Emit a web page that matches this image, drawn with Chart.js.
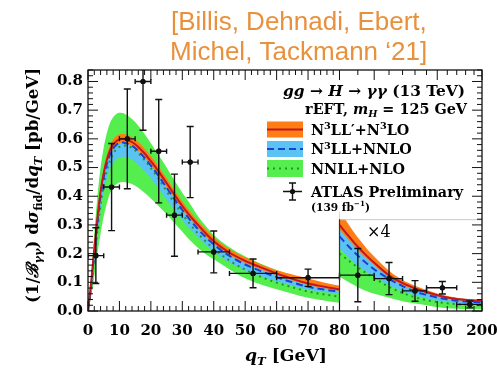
<!DOCTYPE html>
<html><head><meta charset="utf-8">
<script src="https://cdn.jsdelivr.net/npm/chart.js@4.4.0/dist/chart.umd.min.js"></script>
<style>html,body{margin:0;padding:0;background:#fff;}#wrap{width:497px;height:370px;position:relative;}</style>
</head><body><div id="wrap"><canvas id="c" width="497" height="370"></canvas></div>
<script>
// ---------- data ----------
// left panel, q_T 0..80 GeV, pb/GeV
const qLeft = [0,1,2,3,4,5,6,7,8,9,10,11,12,14,16,18,20,22.5,25,27.5,30,32.5,35,37.5,40,45,50,55,60,65,70,75,80];
const redN3LLp   = [0,0.10,0.215,0.325,0.415,0.48,0.527,0.56,0.58,0.592,0.598,0.600,0.598,0.589,0.572,0.549,0.522,0.486,0.446,0.405,0.366,0.331,0.3,0.27,0.243,0.203,0.175,0.152,0.131,0.112,0.096,0.085,0.075];
const orangeHi   = [0,0.11,0.23,0.34,0.432,0.497,0.545,0.578,0.598,0.61,0.616,0.617,0.615,0.606,0.589,0.566,0.539,0.503,0.463,0.421,0.382,0.346,0.314,0.284,0.257,0.216,0.187,0.163,0.142,0.127,0.113,0.099,0.088];
const orangeLo   = [0,0.09,0.2,0.31,0.4,0.465,0.512,0.545,0.566,0.578,0.584,0.586,0.584,0.575,0.558,0.535,0.508,0.472,0.432,0.392,0.354,0.32,0.289,0.26,0.234,0.195,0.167,0.145,0.125,0.106,0.091,0.08,0.07];
const blueN3LL   = [0,0.09,0.2,0.31,0.4,0.465,0.512,0.546,0.566,0.579,0.585,0.587,0.585,0.576,0.558,0.534,0.507,0.47,0.43,0.39,0.352,0.317,0.285,0.257,0.232,0.192,0.162,0.139,0.118,0.1,0.084,0.075,0.067];
const cyanHi     = [0,0.105,0.225,0.335,0.425,0.49,0.538,0.572,0.593,0.606,0.612,0.613,0.611,0.602,0.585,0.562,0.535,0.499,0.459,0.418,0.378,0.342,0.31,0.28,0.253,0.212,0.182,0.158,0.137,0.118,0.102,0.091,0.082];
const cyanLo     = [0,0.07,0.165,0.265,0.35,0.415,0.462,0.496,0.517,0.53,0.536,0.538,0.537,0.528,0.511,0.488,0.462,0.427,0.389,0.352,0.317,0.284,0.255,0.229,0.206,0.169,0.141,0.122,0.104,0.088,0.074,0.066,0.059];
const greenNNLL  = [0,0.08,0.18,0.28,0.37,0.44,0.49,0.525,0.548,0.563,0.572,0.577,0.577,0.568,0.55,0.526,0.498,0.46,0.418,0.377,0.338,0.302,0.27,0.242,0.217,0.176,0.144,0.119,0.099,0.083,0.068,0.058,0.05];
const greenHi    = [0,0.12,0.27,0.4,0.5,0.57,0.62,0.655,0.675,0.687,0.691,0.69,0.685,0.669,0.646,0.617,0.585,0.543,0.5,0.455,0.412,0.373,0.33,0.295,0.265,0.222,0.19,0.165,0.143,0.125,0.11,0.097,0.087];
const greenLo    = [0,0.05,0.12,0.2,0.27,0.33,0.375,0.41,0.43,0.442,0.448,0.45,0.449,0.443,0.43,0.412,0.392,0.365,0.337,0.307,0.276,0.246,0.22,0.198,0.18,0.145,0.114,0.092,0.076,0.06,0.046,0.037,0.029];
// right panel, q_T 80..200 GeV, values as drawn (x4)
const qRight = [80,85,90,95,100,110,120,130,140,150,160,170,180,190,200];
const red4      = [0.30,0.26,0.224,0.194,0.168,0.124,0.097,0.079,0.066,0.055,0.047,0.042,0.039,0.037,0.035];
const orangeHi4 = [0.35,0.3,0.256,0.22,0.19,0.14,0.108,0.088,0.073,0.061,0.052,0.046,0.042,0.04,0.038];
const orangeLo4 = [0.285,0.247,0.213,0.184,0.16,0.117,0.091,0.074,0.062,0.052,0.044,0.039,0.036,0.034,0.032];
const blue4     = [0.26,0.224,0.193,0.167,0.145,0.112,0.087,0.068,0.056,0.047,0.041,0.036,0.033,0.031,0.03];
const cyanHi4   = [0.32,0.276,0.238,0.206,0.179,0.133,0.103,0.084,0.07,0.058,0.05,0.045,0.041,0.038,0.036];
const cyanLo4   = [0.22,0.185,0.158,0.137,0.12,0.09,0.069,0.054,0.044,0.036,0.031,0.027,0.025,0.023,0.022];
const green4    = [0.2,0.175,0.152,0.132,0.115,0.084,0.063,0.048,0.038,0.031,0.027,0.024,0.022,0.021,0.02];
const greenHi4  = [0.34,0.29,0.248,0.213,0.184,0.136,0.105,0.086,0.071,0.059,0.05,0.045,0.041,0.039,0.037];
const greenLo4  = [0.12,0.1,0.083,0.07,0.06,0.046,0.034,0.026,0.02,0.013,0.01,0.008,0.007,0.006,0.006];
// ATLAS Preliminary (139 fb^-1); last five bins shown x4
const atlasQ   = [2.5,7.5,12.5,17.5,22.5,27.5,32.5,40,52.5,70,90,110,130,155,185];
const atlasQlo = [0,5,10,15,20,25,30,35,45,60,80,100,120,140,170];
const atlasQhi = [5,10,15,20,25,30,35,45,60,80,100,120,140,170,200];
const atlasY   = [0.193,0.432,0.6,0.8,0.557,0.334,0.519,0.206,0.131,0.116,0.125,0.113,0.07,0.081,0.023];
const atlasErr = [0.097,0.152,0.174,0.17,0.18,0.143,0.124,0.073,0.05,0.03,0.093,0.056,0.036,0.022,0.012];
// axis ticks
const xTicksLeft = [0,10,20,30,40,50,60,70,80];
const xTicksRight = [100,150,200];
const xMinorRight = [90,110,120,130,140,160,170,180,190];
const yTicks = [0,0.1,0.2,0.3,0.4,0.5,0.6,0.7,0.8];

// ---------- axis transform: linear 0-80, log 80-200 ----------
const SPLIT = 80, KLOG = 49.47, BOX_TOP = 0.32, YMAX = 0.84;
function u(q){ return q <= SPLIT ? q : SPLIT + KLOG*Math.log(q/SPLIT); }
const UMAX = u(200);
function pts(qs, vs){ return qs.map((q,i)=>({x:u(q), y:vs[i]})); }

const C_GREEN='#54ee4e', C_CYAN='#5bc3f3', C_ORANGE='#ff7d14';
const L_RED='#c4161c', L_BLUE='#1b3fd0', L_GREEN='#23962a';

function band(lo, hi, color, ord){
  return [
    {data:lo, borderWidth:0, pointRadius:0, fill:false, order:ord},
    {data:hi, borderWidth:0, pointRadius:0, fill:'-1', backgroundColor:color, order:ord}
  ];
}
function line(d, color, dash, ord){
  return {data:d, borderColor:color, borderWidth:2, borderDash:dash, pointRadius:0, fill:false, order:ord};
}
const datasets = [
  ...band(pts(qLeft,greenLo), pts(qLeft,greenHi), C_GREEN, 30),
  ...band(pts(qLeft,cyanLo), pts(qLeft,cyanHi), C_CYAN, 29),
  ...band(pts(qLeft,orangeLo), pts(qLeft,orangeHi), C_ORANGE, 28),
  line(pts(qLeft,greenNNLL), L_GREEN, [2,4], 22),
  line(pts(qLeft,blueN3LL), L_BLUE, [7,4], 21),
  line(pts(qLeft,redN3LLp), L_RED, [], 20),
  ...band(pts(qRight,greenLo4), pts(qRight,greenHi4), C_GREEN, 30),
  ...band(pts(qRight,cyanLo4), pts(qRight,cyanHi4), C_CYAN, 29),
  ...band(pts(qRight,orangeLo4), pts(qRight,orangeHi4), C_ORANGE, 28),
  line(pts(qRight,green4), L_GREEN, [2,4], 22),
  line(pts(qRight,blue4), L_BLUE, [7,4], 21),
  line(pts(qRight,red4), L_RED, [], 20),
  {type:'scatter', data:pts(atlasQ, atlasY), pointRadius:2.6, pointBackgroundColor:'#111', pointBorderWidth:0, showLine:false, order:1}
];

// ---------- text helpers ----------
const SERIF = '"DejaVu Serif","Liberation Serif",serif';
function fnt(s, size){ return (s.includes('i')?'italic ':'') + (s.includes('b')?'bold ':'') + size.toFixed(2) + 'px ' + SERIF; }
function segSize(g, size){ return (g.sub||g.sup) ? size*0.68 : size; }
function richW(ctx, segs, size){ let w=0; for(const g of segs){ ctx.font=fnt(g.s||'b', segSize(g,size)); w+=ctx.measureText(g.t).width; } return w; }
function fit(ctx, segs, base, target){ return base*target/richW(ctx,segs,base); }
function drawRich(ctx, segs, x, y, size, align){
  const w = richW(ctx, segs, size);
  let cx = align==='right' ? x-w : align==='center' ? x-w/2 : x;
  ctx.textAlign='left'; ctx.textBaseline='alphabetic'; ctx.fillStyle='#000';
  for(const g of segs){
    const sz = segSize(g,size); ctx.font = fnt(g.s||'b', sz);
    const dy = g.sub ? size*0.22 : g.sup ? -size*0.38 : 0;
    ctx.fillText(g.t, cx, y+dy); cx += ctx.measureText(g.t).width;
  }
}

const deco = {
  id:'deco',
  afterDatasetsDraw(chart){
    const {ctx, chartArea:a, scales:{x, y}} = chart;
    const xs = x.getPixelForValue(u(SPLIT));
    const yb = y.getPixelForValue(BOX_TOP);
    ctx.save(); ctx.fillStyle='#fff'; ctx.fillRect(xs+0.5, a.top, a.right-xs, yb-a.top); ctx.restore();
    ctx.save();
    ctx.beginPath(); ctx.rect(a.left, a.top, a.right-a.left, a.bottom-a.top); ctx.clip();
    ctx.strokeStyle='#111'; ctx.lineWidth=1.4;
    for(let i=0;i<atlasQ.length;i++){
      const px=x.getPixelForValue(u(atlasQ[i])), py=y.getPixelForValue(atlasY[i]);
      const x0=x.getPixelForValue(u(atlasQlo[i])), x1=x.getPixelForValue(u(atlasQhi[i]));
      const yT=y.getPixelForValue(atlasY[i]+atlasErr[i]), yB=y.getPixelForValue(Math.max(0,atlasY[i]-atlasErr[i]));
      ctx.beginPath();
      ctx.moveTo(x0,py); ctx.lineTo(x1,py);
      ctx.moveTo(x0,py-2.5); ctx.lineTo(x0,py+2.5);
      ctx.moveTo(x1,py-2.5); ctx.lineTo(x1,py+2.5);
      ctx.moveTo(px,yT); ctx.lineTo(px,yB);
      ctx.moveTo(px-3.5,yT); ctx.lineTo(px+3.5,yT);
      ctx.moveTo(px-3.5,yB); ctx.lineTo(px+3.5,yB);
      ctx.stroke();
      ctx.beginPath(); ctx.fillStyle='#111'; ctx.arc(px,py,2.6,0,Math.PI*2); ctx.fill();
    }
    ctx.restore();
  },
  afterDraw(chart){
    const {ctx, chartArea:a, scales:{x, y}} = chart;
    const X = q => x.getPixelForValue(u(q));
    const Y = v => y.getPixelForValue(v);
    const xs = X(SPLIT), yb = Y(BOX_TOP);
    ctx.save();
    // x4 box
    ctx.strokeStyle='#c8c8c8'; ctx.lineWidth=1;
    ctx.beginPath(); ctx.moveTo(xs, yb+0.5); ctx.lineTo(a.right, yb+0.5); ctx.stroke();
    ctx.strokeStyle='#333'; ctx.lineWidth=1.2;
    ctx.beginPath(); ctx.moveTo(xs, yb); ctx.lineTo(xs, a.bottom); ctx.stroke();
    // frame
    ctx.strokeStyle='#111'; ctx.lineWidth=1.3;
    ctx.strokeRect(a.left, a.top, a.right-a.left, a.bottom-a.top);
    // ticks
    ctx.lineWidth=1;
    ctx.beginPath();
    const xt = (px, len) => { ctx.moveTo(px, a.bottom); ctx.lineTo(px, a.bottom-len); ctx.moveTo(px, a.top); ctx.lineTo(px, a.top+len); };
    for(let q=0; q<=80; q+=2){ xt(X(q), q%10===0 ? 10 : 5); }
    xTicksRight.forEach(q=>xt(X(q),10));
    xMinorRight.forEach(q=>xt(X(q),5));
    for(let k=0; k<=42; k++){
      const v=k*0.02, py=Y(v), len = (k%5===0) ? 10 : 5;
      ctx.moveTo(a.left, py); ctx.lineTo(a.left+len, py);
      ctx.moveTo(a.right, py); ctx.lineTo(a.right-len, py);
    }
    ctx.stroke();
    // tick labels
    ctx.fillStyle='#000'; ctx.font='bold 15px '+SERIF;
    ctx.textAlign='center'; ctx.textBaseline='alphabetic';
    xTicksLeft.concat(xTicksRight).forEach(q=>ctx.fillText(String(q), X(q), 335));
    ctx.textAlign='right'; ctx.textBaseline='middle';
    yTicks.forEach(v=>ctx.fillText(v.toFixed(1), 83, Y(v)));
    // axis titles
    const xt1=[{t:'q',s:'bi'},{t:'T',s:'bi',sub:true},{t:' [GeV]',s:'b'}];
    drawRich(ctx, xt1, 286, 361, fit(ctx,xt1,16,82), 'center');
    const yt1=[{t:'(1/',s:'b'},{t:'ℬ',s:'bi'},{t:'γγ',s:'bi',sub:true},{t:') d',s:'b'},{t:'σ',s:'bi'},{t:'fid',s:'b',sub:true},{t:'/d',s:'b'},{t:'q',s:'bi'},{t:'T',s:'bi',sub:true},{t:' [pb/GeV]',s:'b'}];
    ctx.save(); ctx.translate(38, 185.5); ctx.rotate(-Math.PI/2);
    drawRich(ctx, yt1, 0, 0, fit(ctx,yt1,16,235), 'center'); ctx.restore();
    // legend header
    const h1=[{t:'gg',s:'bi'},{t:' → ',s:'b'},{t:'H',s:'bi'},{t:' → ',s:'b'},{t:'γγ',s:'bi'},{t:' (13 TeV)',s:'b'}];
    drawRich(ctx, h1, 465, 95.5, fit(ctx,h1,14,182), 'right');
    const h2=[{t:'rEFT, ',s:'b'},{t:'m',s:'bi'},{t:'H',s:'bi',sub:true},{t:' = 125 GeV',s:'b'}];
    drawRich(ctx, h2, 467, 114, fit(ctx,h2,13,162), 'right');
    // legend entries
    const swL=267, swR=303;
    const rows=[
      {y0:121.5,y1:137.5,fill:C_ORANGE,lc:L_RED,dash:[],
       segs:[{t:'N'},{t:'3',sup:true},{t:'LL′+N'},{t:'3',sup:true},{t:'LO'}]},
      {y0:141,y1:157,fill:C_CYAN,lc:L_BLUE,dash:[7,4],
       segs:[{t:'N'},{t:'3',sup:true},{t:'LL+NNLO'}]},
      {y0:160,y1:177,fill:C_GREEN,lc:L_GREEN,dash:[2,4],
       segs:[{t:'NNLL+NLO'}]}
    ];
    const atl=[{t:'ATLAS Preliminary'}];
    const ls = fit(ctx, atl, 13, 152);
    rows.forEach(r=>{
      ctx.fillStyle=r.fill; ctx.fillRect(swL, r.y0, swR-swL, r.y1-r.y0);
      ctx.strokeStyle=r.lc; ctx.lineWidth=2; ctx.setLineDash(r.dash);
      const ym=(r.y0+r.y1)/2;
      ctx.beginPath(); ctx.moveTo(swL, ym); ctx.lineTo(swR, ym); ctx.stroke(); ctx.setLineDash([]);
      drawRich(ctx, r.segs, 311, ym+5, ls, 'left');
    });
    // ATLAS marker
    ctx.strokeStyle='#111'; ctx.lineWidth=1.4;
    ctx.beginPath(); ctx.moveTo(283,191.5); ctx.lineTo(302,191.5); ctx.moveTo(292.5,183); ctx.lineTo(292.5,200);
    ctx.moveTo(289,183); ctx.lineTo(296,183); ctx.moveTo(289,200); ctx.lineTo(296,200); ctx.stroke();
    ctx.beginPath(); ctx.fillStyle='#111'; ctx.arc(292.5,191.5,2.6,0,Math.PI*2); ctx.fill();
    drawRich(ctx, atl, 311, 196.5, ls, 'left');
    const lum=[{t:'(139 fb'},{t:'−1',sup:true},{t:')'}];
    drawRich(ctx, lum, 311, 210.5, fit(ctx,lum,10,59), 'left');
    // x4 label
    ctx.fillStyle='#000'; ctx.font='16px '+SERIF; ctx.textAlign='left'; ctx.textBaseline='alphabetic';
    ctx.fillText('×4', 367, 237);
    // citation
    ctx.fillStyle='#e8913c'; ctx.font='26px "Liberation Sans", Arial, sans-serif';
    ctx.fillText('[Billis, Dehnadi, Ebert,', 171, 29.5);
    ctx.fillText('Michel, Tackmann ‘21]', 170, 59.5);
    ctx.restore();
  }
};

new Chart(document.getElementById('c'), {
  type:'line',
  data:{datasets},
  options:{
    responsive:false, animation:false, devicePixelRatio:1,
    layout:{padding:{left:88, right:15, top:70, bottom:59}},
    elements:{line:{cubicInterpolationMode:'monotone'}},
    plugins:{legend:{display:false}, tooltip:{enabled:false}, filler:{propagate:false}},
    scales:{
      x:{type:'linear', display:false, min:0, max:UMAX},
      y:{type:'linear', display:false, min:0, max:YMAX}
    }
  },
  plugins:[deco]
});
</script>
</body></html>
